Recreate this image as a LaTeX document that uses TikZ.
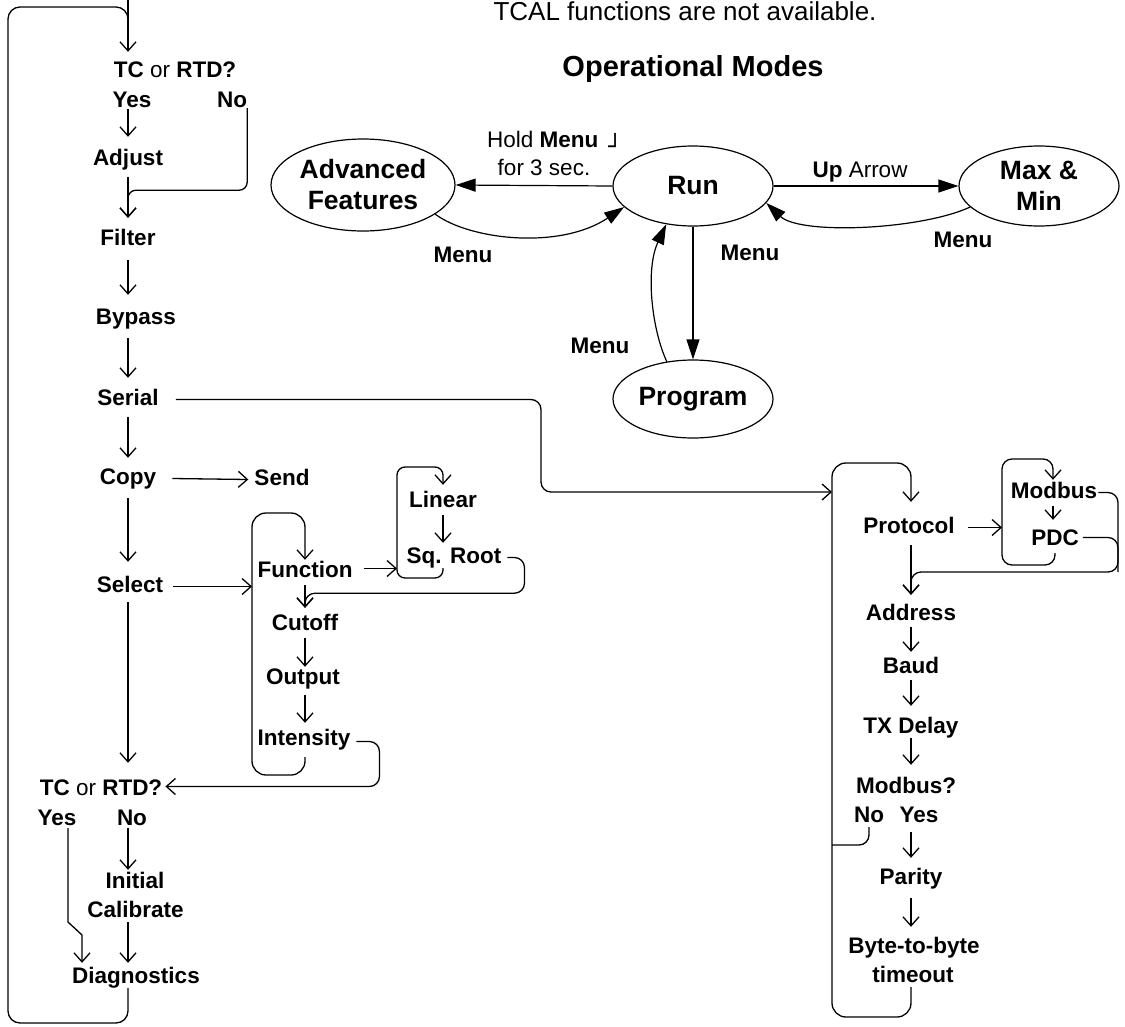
\documentclass[tikz,border=0pt]{standalone}
\usepackage{fontspec}
\setmainfont{Liberation Sans}
\newfontfamily\djv{DejaVu Sans}
\usetikzlibrary{arrows.meta,shapes.geometric,calc}
\newcommand\lblfont{\fontsize{22.5pt}{27pt}\selectfont}
\newcommand\modefont{\fontsize{26.5pt}{31pt}\selectfont}
\begin{document}
\begin{tikzpicture}[x=1pt,y=1pt,
  ln/.style={line width=1.3pt},
  arr/.style={ln,-{Straight Barb[length=9pt,width=16pt]}},
  marr/.style={line width=1.2pt,-{Triangle[length=20pt,width=13pt]}},
  lbl/.style={font=\lblfont\bfseries,inner sep=0pt,text height=16pt,text depth=5pt,anchor=base},
  reg/.style={font=\lblfont,inner sep=0pt,text height=16pt,text depth=5pt,anchor=base},
  modeell/.style={ellipse,draw,line width=1.2pt,inner sep=0pt,font=\modefont\bfseries,align=center},
]
\useasboundingbox (0,0) rectangle (1125,-1026);

% ---------- top texts ----------
\node[font=\fontsize{26pt}{30pt}\selectfont,inner sep=0pt,anchor=base] (tcal) at (685,-20) {TCAL functions are not available.};
\node[font=\fontsize{29pt}{33pt}\selectfont\bfseries,inner sep=0pt,anchor=base] (opm) at (693,-76) {Operational Modes};

% ---------- operational modes ----------
\node[modeell,minimum width=184pt,minimum height=92pt] (adv) at (363,-185) {Advanced\\Features};
\node[modeell,minimum width=160pt,minimum height=80pt] (run) at (693,-186) {Run};
\node[modeell,minimum width=160pt,minimum height=80pt] (max) at (1039,-186) {Max \&\\Min};
\node[modeell,minimum width=160pt,minimum height=78pt] (prog) at (693,-399) {Program};

\node[reg,anchor=base west] (hold1) at (487,-147) {Hold \textbf{Menu}\hspace{10pt}\raisebox{-7pt}{\djv ┘}};
\node[reg] (hold2) at (544,-175) {for 3 sec.};
\node[lbl] (m1) at (463,-262) {Menu};
\node[reg] (uparr) at (860,-177) {\textbf{Up} Arrow};
\node[lbl] (m3) at (963,-247) {Menu};
\node[lbl] (m2) at (750,-260) {Menu};
\node[lbl] (m4) at (600,-353) {Menu};

\draw[marr] (run.west) -- (adv.east);
\draw[marr] (run.east) -- (max.west);
\draw[marr] (run.south) -- (prog.north);
\draw[marr] (adv.-22) .. controls (470,-240) and (560,-250) .. (run.-163);
\draw[marr] (max.-163) .. controls (920,-230) and (800,-235) .. (run.-13);
\draw[marr] (prog.125) .. controls (652,-330) and (645,-270) .. (run.235);

% ---------- left column ----------
\node[lbl] (tc1) at (175,-77) {TC \textmd{or} RTD?};
\node[lbl] (yes1) at (132,-107) {Yes};
\node[lbl] (no1) at (232,-107) {No};
\node[lbl] (adjust) at (128,-165) {Adjust};
\node[lbl] (filter) at (128,-245) {Filter};
\node[lbl] (bypass) at (136,-324) {Bypass};
\node[lbl] (serial) at (128,-405) {Serial};
\node[lbl] (copy) at (128,-484) {Copy};
\node[lbl] (send) at (282,-485) {Send};
\node[lbl] (select) at (130,-592) {Select};
\node[lbl] (func) at (305,-577) {Function};
\node[lbl] (linear) at (443,-507) {Linear};
\node[lbl] (sqroot) at (454,-563) {Sq. Root};
\node[lbl] (cutoff) at (305,-630) {Cutoff};
\node[lbl] (output) at (303,-684) {Output};
\node[lbl] (intens) at (304,-745) {Intensity};
\node[lbl] (tc2) at (101,-795) {TC \textmd{or} RTD?};
\node[lbl] (yes2) at (57,-825) {Yes};
\node[lbl] (no2) at (132,-825) {No};
\node[lbl] (initial) at (135,-888) {Initial};
\node[lbl] (calib) at (135.5,-917) {Calibrate};
\node[lbl] (diag) at (136,-983) {Diagnostics};

% ---------- right column ----------
\node[lbl] (proto) at (909,-533) {Protocol};
\node[lbl] (modbus) at (1054,-498) {Modbus};
\node[lbl] (pdc) at (1055,-545) {PDC};
\node[lbl] (address) at (911,-620) {Address};
\node[lbl] (baud) at (911,-673) {Baud};
\node[lbl] (txd) at (911,-733) {TX Delay};
\node[lbl] (modq) at (906,-793) {Modbus?};
\node[lbl] (no3) at (869,-822) {No};
\node[lbl] (yes3) at (919,-822) {Yes};
\node[lbl] (parity) at (911,-884) {Parity};
\node[lbl] (byte) at (914,-953) {Byte-to-byte};
\node[lbl] (tmo) at (913,-982) {timeout};

% ---------- helper coordinates ----------
\coordinate (entry) at (128,5);
\coordinate (loopbl) at (8,-1023);
\coordinate (looptl) at (8,-7);
\coordinate (fbtl) at (252,-513);
\coordinate (fbbl) at (252,-775);
\coordinate (lbtl) at (397,-467);
\coordinate (lbbl) at (397,-578);
\coordinate (sdrop) at (541,-446);
\coordinate (pin) at (832,-492);
\coordinate (pbtl) at (832,-463);
\coordinate (pbbl) at (832,-1017);
\coordinate (mbtl) at (1002,-459);
\coordinate (mbbl) at (1002,-565);
\coordinate (mright) at (1118,-572);

% ---------- left connectors ----------
\draw[arr] (entry) -- ($(adjust |- tc1.north)+(0,9)$);
\draw[ln,rounded corners=12pt] (adjust |- diag.south) |- (loopbl) -- (looptl) -| ($(adjust |- tc1.north)+(0,30)$);
\draw[arr] ($(adjust |- yes1.base)+(0,-2)$) -- ($(adjust.north)+(0,12)$);
\draw[arr,rounded corners=8pt] ($(no1.base east)+(0,-1)$) |- ($(adjust.south)+(0,-20)$) -- ($(filter.north)+(0,11)$);
\draw[arr] ($(adjust.south)+(0,-7)$) -- ($(filter.north)+(0,11)$);
\draw[arr] ($(filter.south)+(0,-10)$) -- ($(filter.south |- bypass.north)+(0,13)$);
\draw[arr] ($(serial |- bypass.south)+(0,-9)$) -- ($(serial.north)+(0,11)$);
\draw[arr] ($(serial.south)+(0,-7)$) -- ($(copy.north)+(0,10)$);
\draw[arr] ($(copy.south)+(0,-9)$) -- ($(copy |- select.north)+(0,14)$);
\draw[arr] ($(copy |- select.south)+(0,-5)$) -- ($(copy |- tc2.north)+(0,16)$);
\draw[arr] ($(copy.east)+(16,0)$) -- ($(send.west)+(-6,0)$);
\draw[arr] ($(select.east)+(10,0)$) -- (fbtl |- select.east);
\draw[arr,rounded corners=14pt] ($(func |- intens.south)+(0,-7)$) |- (fbbl) -- (fbtl) -| ($(func.north)+(0,1)$);
\draw[arr] ($(func.east)+(11,3)$) -- ($(lbtl |- func.east)+(0,3)$);
\draw[arr,rounded corners=8pt] (linear |- sqroot.south) |- (lbbl) -- (lbtl) -| ($(linear.north)+(0,6)$);
\draw[arr] ($(linear.south)+(0,-3)$) -- ($(linear |- sqroot.north)+(0,4)$);
\draw[arr,rounded corners=10pt] ($(sqroot.east)+(6,0)$) -- ++(17,0) |- ($(func.south)+(0,-11)$) -- ($(cutoff.north)+(0,6)$);
\draw[arr] ($(func.south)+(0,-3)$) -- ($(cutoff.north)+(0,6)$);
\draw[arr] ($(cutoff.south)+(0,-3)$) -- ($(cutoff |- output.north)+(0,1)$);
\draw[arr] ($(cutoff |- output.south)+(0,-6)$) -- ($(cutoff |- intens.north)+(0,6)$);
\draw[arr,rounded corners=10pt] ($(intens.east)+(6,-2)$) -- ++(23,0) |- ($(tc2.east)+(3,3)$);
\draw[arr] ($(copy |- no2.base)+(0,-3)$) -- ($(copy |- initial.north)+(0,2)$);
\draw[arr] ($(copy |- calib.base)+(0,-5)$) -- ($(copy |- diag.north)+(0,4)$);
\draw[arr] ($(yes2.base)+(11,-3)$) -- ++(0,-94) -- ++(14,-13) -- ($(diag.north)+(-54,4)$);

% ---------- serial link ----------
\draw[arr,rounded corners=10pt] ($(serial.east)+(17,0)$) -| (sdrop) |- (pin);

% ---------- right connectors ----------
\draw[arr,rounded corners=14pt] (address |- tmo.south) |- (pbbl) -- (pbtl) -| ($(address |- proto.north)+(0,15)$);
\draw[arr] ($(proto.east)+(13,0)$) -- (mbtl |- proto.east);
\draw[arr,rounded corners=10pt] ($(pdc.south)+(0,-3)$) |- (mbbl) -- (mbtl) -| ($(modbus.north)+(-1,2)$);
\draw[arr] ($(modbus.south)+(-1,-3)$) -- ($(modbus |- pdc.north)+(-1,9)$);
\draw[arr,rounded corners=10pt] ($(modbus.east)+(1,0)$) -| (mright) -| ($(address.north)+(0,9)$);
\draw[ln,rounded corners=10pt] ($(pdc.east)+(4,2)$) -| (mright);
\draw[arr] ($(address |- proto.south)+(0,-7)$) -- ($(address.north)+(0,9)$);
\draw[arr] ($(address.south)+(0,-2)$) -- ($(baud.north)+(0,5)$);
\draw[arr] ($(baud.south)+(0,-2)$) -- ($(txd.north)+(0,11)$);
\draw[arr] (txd.south) -- ($(address |- modq.north)+(0,12)$);
\draw[arr] ($(address |- yes3.south)+(0,-5)$) -- ($(parity.north)+(0,10)$);
\draw[arr] ($(parity.south)+(0,-9)$) -- ($(address |- byte.north)+(0,10)$);
\draw[ln,rounded corners=10pt] (no3.south) |- ($(pbtl)+(0,-382)$);
\end{tikzpicture}
\end{document}
